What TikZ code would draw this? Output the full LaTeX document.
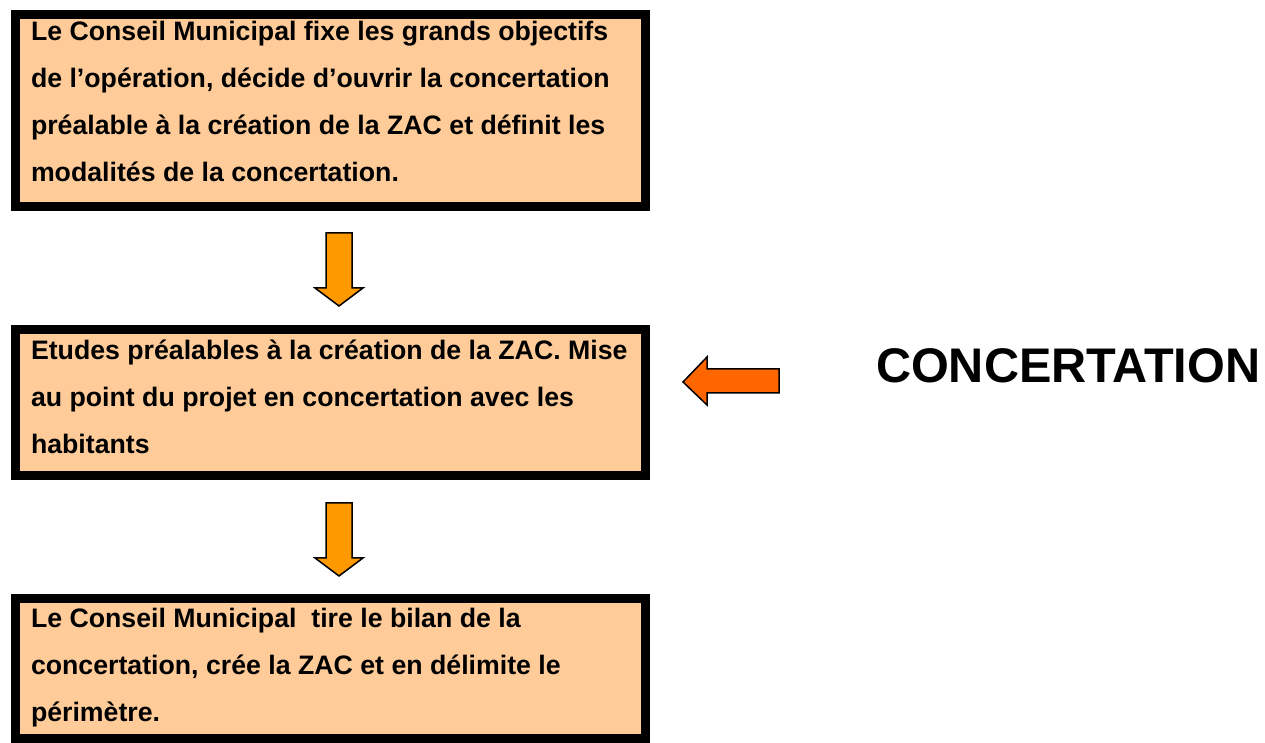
\documentclass[tikz,border=0pt]{standalone}
\usepackage{fontspec}
\setmainfont{Liberation Sans}
\definecolor{peach}{HTML}{FFCC99}
\definecolor{arrowA}{HTML}{FF9900}
\definecolor{arrowB}{HTML}{FF6600}
\newcommand\boxtext[1]{\parbox[t]{615pt}{\raggedright\fontsize{26.7}{47}\selectfont\bfseries #1}}
\begin{document}
\begin{tikzpicture}[x=1pt,y=1pt,
  stagebox/.style={draw=black, fill=peach, line width=9pt, inner sep=0pt, outer sep=0pt, anchor=north west, minimum width=630pt},
  boxlabel/.style={anchor=base west, inner sep=0pt, outer sep=0pt},
  blockarrow/.style={draw=black, line width=1.5pt, line join=miter}]
\useasboundingbox (0,0) rectangle (1265,743);
% boxes
\node[stagebox, minimum height=192pt] (b1) at (15.5,728.5) {};
\node[stagebox, minimum height=146pt] (b2) at (15.5,413.5) {};
\node[stagebox, minimum height=140pt] (b3) at (15.5,144.5) {};
% texts
\node[boxlabel] (t1) at (31,702) {\boxtext{Le Conseil Municipal fixe les grands objectifs\\de l’opération, décide d’ouvrir la concertation\\préalable à la création de la ZAC et définit les\\modalités de la concertation.}};
\node[boxlabel] (t2) at (31,383) {\boxtext{Etudes préalables à la création de la ZAC. Mise\\au point du projet en concertation avec les\\habitants}};
\node[boxlabel] (t3) at (31,115) {\boxtext{Le Conseil Municipal~ tire le bilan de la\\concertation, crée la ZAC et en délimite le\\périmètre.}};
% down arrows
\draw[blockarrow, fill=arrowA] (326,510) -- (352,510) -- (352,455) -- (363,455) -- (339,437) -- (315,455) -- (326,455) -- cycle;
\draw[blockarrow, fill=arrowA] (326,240) -- (352,240) -- (352,185) -- (363,185) -- (339,167) -- (315,185) -- (326,185) -- cycle;
% left arrow
\draw[blockarrow, fill=arrowB] (779,374) -- (707,374) -- (707,386) -- (683,361) -- (707,338) -- (707,350) -- (779,350) -- cycle;
% label
\node[boxlabel] (conc) at (876,360) {\fontsize{48.6}{50}\selectfont\bfseries CONCERTATION};
\end{tikzpicture}
\end{document}
